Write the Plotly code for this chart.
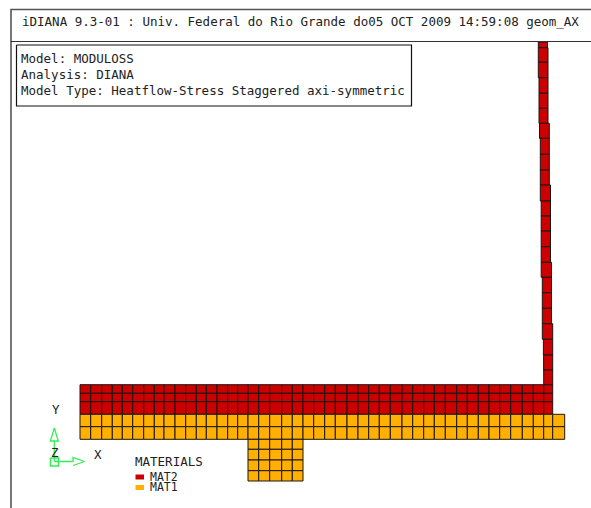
import plotly.graph_objects as go

# Mesh (model units = picture units)
column_edges = [80, 90.7, 101.7, 112.3, 122.3, 132.7, 143.7, 154.3, 164, 175, 185.7, 196.3, 206.3, 217,
                227.7, 237.7, 248, 258.7, 269.7, 281.7, 292.3, 303, 313.7, 324.7, 335.3, 347, 358, 368.7,
                379.3, 390.3, 402, 412.7, 423.7, 434.3, 445.3, 456.7, 467.3, 478.3, 489, 499.7, 510.7,
                522.3, 533.3, 543.7, 552.7, 564.7]
mat2_row_edges = [384.7, 393.3, 401.7, 414.3]
mat1_row_edges = [414.3, 426.7, 439.3]
pedestal_column_edges = [248, 258.7, 269.7, 281.7, 292.3, 303]
pedestal_row_edges = [439.3, 449.3, 460, 470.7, 481]

wall_y_edges = [42, 47.7, 62.3, 77.7, 93.3, 108.3, 123.3, 138.3, 154.3, 170, 185, 201, 216, 231, 246.7,
                262.3, 277.3, 292.7, 308.3, 323.7, 339.3, 355, 370, 384.7]
wall_left = [538.3, 538.3, 538.3, 539, 539, 539, 539.5, 540.3, 540.3, 540.3, 540.3, 541.2, 541.2, 541.2, 541.2,
             541.2, 542.3, 542.3, 542.3, 542.3, 543.4, 543.6, 543.7]
wall_right = [547.5, 548, 548, 548, 548, 548, 549.3, 549.3, 549.3, 549.3, 550.5, 550.5, 550.5, 550.5, 550.5,
              551.5, 551.5, 551.5, 551.5, 552.7, 552.7, 552.7, 552.7]

frame_x = [11, 11, 591]
frame_y = [508, 9.5, 9.5]
header_x = [11, 591]
header_y = [41.5, 41.5]
info_box_x = [16.5, 411.5, 411.5, 16.5, 16.5]
info_box_y = [45, 45, 106, 106, 45]

triad_up_x = [54.3, 54.3, 50.3, 54.3, 58.3, 54.3]
triad_up_y = [461.5, 441, 441, 428, 441, 441]
triad_right_x = [54.3, 73, 73, 84.5, 73]
triad_right_y = [461.5, 461.5, 457.5, 461.5, 465.5]
triad_box_x = [50.5, 58.5, 58.5, 50.5, 50.5]
triad_box_y = [458, 458, 466, 466, 458]

title_text = "iDIANA 9.3-01 : Univ. Federal do Rio Grande do05 OCT 2009 14:59:08 geom_AX"
info_lines = ["Model: MODULOSS", "Analysis: DIANA", "Model Type: Heatflow-Stress Staggered axi-symmetric"]
info_y = [58, 74.5, 90.5]
legend_title = "MATERIALS"
legend_names = ["MAT2", "MAT1"]
legend_colors = ["#cc0000", "#ffb000"]
legend_y = [477, 487.5]

RED, ORANGE = legend_colors
EDGE = "#1c1410"
GREEN = "#35ee55"
MONO = "DejaVu Sans Mono"
TXT = "#222222"


def cells(xe, ye):
    cx, w, base, h = [], [], [], []
    for j in range(len(ye) - 1):
        for i in range(len(xe) - 1):
            cx.append((xe[i] + xe[i + 1]) / 2)
            w.append(xe[i + 1] - xe[i])
            base.append(ye[j])
            h.append(ye[j + 1] - ye[j])
    return cx, w, base, h


def bar(name, color, cx, w, base, h):
    return go.Bar(x=cx, y=h, base=base, width=w, name=name, showlegend=False, hoverinfo="skip",
                  marker=dict(color=color, line=dict(color=EDGE, width=1)))


fig = go.Figure()
fig.add_trace(bar("MAT2", RED, *cells(column_edges[:-1], mat2_row_edges)))
wx = [(a + b) / 2 for a, b in zip(wall_left, wall_right)]
ww = [b - a for a, b in zip(wall_left, wall_right)]
wb = wall_y_edges[:-1]
wh = [b - a for a, b in zip(wall_y_edges[:-1], wall_y_edges[1:])]
fig.add_trace(bar("MAT2 wall", RED, wx, ww, wb, wh))
fig.add_trace(bar("MAT1", ORANGE, *cells(column_edges, mat1_row_edges)))
fig.add_trace(bar("MAT1 pedestal", ORANGE, *cells(pedestal_column_edges, pedestal_row_edges)))


def line(x, y, color, width):
    fig.add_trace(go.Scatter(x=x, y=y, mode="lines", showlegend=False, hoverinfo="skip",
                             line=dict(color=color, width=width)))


line(frame_x, frame_y, "#555555", 1.6)
line(header_x, header_y, "#333333", 1.2)
line(info_box_x, info_box_y, "#111111", 1.2)
line(triad_up_x, triad_up_y, GREEN, 1.3)
line(triad_right_x, triad_right_y, GREEN, 1.3)
line(triad_box_x, triad_box_y, GREEN, 1.6)


def text(x, y, s, anchor="left", size=12.5):
    fig.add_annotation(x=x, y=y, text=s, showarrow=False, xanchor=anchor, yanchor="middle",
                       borderpad=0, font=dict(family=MONO, size=size, color=TXT))


text(20.5, 21.5, title_text)
for s, y in zip(info_lines, info_y):
    text(19.5, y, s)
text(55.5, 409.5, "Y", "center")
text(55, 452, "Z", "center")
text(98, 454.5, "X", "center")
text(134, 461.5, legend_title)
for n, c, y in zip(legend_names, legend_colors, legend_y):
    text(149, y - 0.5, n, size=11.5)
    fig.add_shape(type="rect", x0=135.5, x1=144, y0=y - 2.5, y1=y + 2.5, xref="x", yref="y",
                  fillcolor=c, line=dict(width=0))

fig.update_layout(
    width=591, height=508, margin=dict(l=0, r=0, t=0, b=0), autosize=False,
    paper_bgcolor="white", plot_bgcolor="white", barmode="overlay", showlegend=False,
    xaxis=dict(range=[0, 591], visible=False, fixedrange=True),
    yaxis=dict(range=[508, 0], visible=False, fixedrange=True),
)
fig.write_html("out.html", config=dict(displayModeBar=False),
               post_script="document.body.style.margin='0';document.documentElement.style.overflow='hidden';")
